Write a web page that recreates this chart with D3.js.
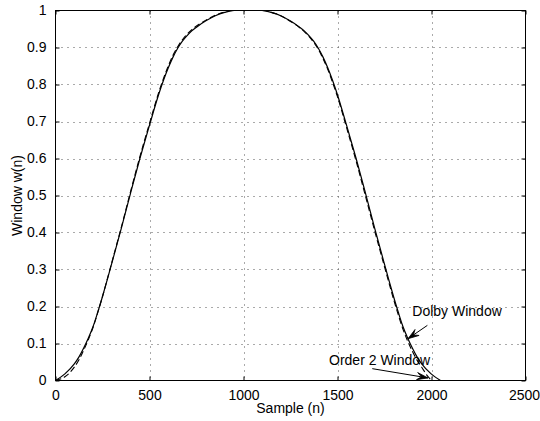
<!DOCTYPE html>
<html>
<head>
<meta charset="utf-8">
<script src="https://cdn.jsdelivr.net/npm/d3@7"></script>
<style>
  html, body { margin: 0; padding: 0; background: #fff; }
  svg { display: block; }
  text { font-family: "Liberation Sans", Arial, Helvetica, sans-serif; font-size: 14px; fill: #000; }
</style>
</head>
<body>
<svg id="chart" width="540" height="421"></svg>
<script>
// ---- data ----
const dolbySamples = [0, 50, 100, 125, 150, 175, 200, 225, 250, 275, 300, 350, 400, 450, 500, 550, 575, 600, 625, 650, 675, 700, 725, 750, 800, 850, 900, 950, 1000,
  1048, 1098, 1148, 1198, 1248, 1298, 1323, 1348, 1373, 1398, 1423, 1448, 1473, 1498, 1548, 1598, 1648, 1698, 1748, 1773, 1798, 1823, 1848, 1873, 1898, 1923, 1948, 1998, 2048];
const dolbyWindow = [0, 0.018, 0.045, 0.064, 0.088, 0.115, 0.146, 0.185, 0.227, 0.272, 0.318, 0.411, 0.508, 0.602, 0.69, 0.775, 0.812, 0.845, 0.874, 0.898, 0.917, 0.932, 0.945, 0.955, 0.972, 0.986, 0.995, 1.0, 1.0,
  1.0, 1.0, 0.995, 0.986, 0.972, 0.955, 0.945, 0.932, 0.917, 0.898, 0.874, 0.845, 0.812, 0.775, 0.69, 0.602, 0.508, 0.411, 0.318, 0.272, 0.227, 0.185, 0.146, 0.115, 0.088, 0.064, 0.045, 0.018, 0];

const order2Samples = [0, 50, 100, 125, 150, 175, 200, 225, 250, 275, 300, 350, 400, 450, 500, 550, 575, 600, 625, 650, 675, 700, 725, 750, 800, 850, 900, 950, 1000,
  1048, 1098, 1148, 1198, 1248, 1298, 1323, 1348, 1373, 1398, 1423, 1448, 1473, 1498, 1548, 1598, 1648, 1698, 1748, 1773, 1798, 1823, 1848, 1873, 1898, 1923, 1948, 1973, 2000];
const order2Window = [0, 0.01, 0.036, 0.056, 0.082, 0.111, 0.144, 0.184, 0.227, 0.273, 0.32, 0.414, 0.512, 0.607, 0.695, 0.78, 0.817, 0.85, 0.879, 0.902, 0.921, 0.936, 0.948, 0.958, 0.974, 0.987, 0.996, 1.0, 1.0,
  1.0, 1.0, 0.995, 0.986, 0.971, 0.954, 0.943, 0.93, 0.914, 0.895, 0.87, 0.841, 0.807, 0.77, 0.684, 0.595, 0.5, 0.404, 0.311, 0.265, 0.22, 0.178, 0.139, 0.107, 0.079, 0.055, 0.036, 0.016, 0];

const xTicks = [0, 500, 1000, 1500, 2000, 2500];
const yTicks = [0, 0.1, 0.2, 0.3, 0.4, 0.5, 0.6, 0.7, 0.8, 0.9, 1];
const yTickLabels = ["0", "0.1", "0.2", "0.3", "0.4", "0.5", "0.6", "0.7", "0.8", "0.9", "1"];

const xLabel = "Sample (n)";
const yLabel = "Window w(n)";
// annotations (data units)
const annotationTexts = ["Dolby Window", "Order 2 Window"];
const annotationTextPos = [[1898, 0.173], [1455, 0.041]];
const annotationArrowTail = [[1978, 0.149], [1685, 0.032]];
const annotationArrowHead = [[1875, 0.113], [1981, 0.007]];

// ---- layout ----
const svg = d3.select("#chart");
const x = d3.scaleLinear().domain([0, 2500]).range([55.5, 525.5]);
const y = d3.scaleLinear().domain([0, 1]).range([380.5, 10.5]);
const [x0, x1] = x.range();
const [yb, yt] = y.range();

// grid
const grid = svg.append("g").attr("stroke", "#555").attr("stroke-width", 1).attr("stroke-dasharray", "1,5");
grid.selectAll("line.gx").data(xTicks.filter(d => d > 0 && d < 2500)).join("line")
  .attr("x1", d => Math.round(x(d)) + 0.5).attr("x2", d => Math.round(x(d)) + 0.5)
  .attr("y1", yt).attr("y2", yb);
grid.selectAll("line.gy").data(yTicks.filter(d => d > 0 && d < 1)).join("line")
  .attr("y1", d => Math.round(y(d)) + 0.5).attr("y2", d => Math.round(y(d)) + 0.5)
  .attr("x1", x0).attr("x2", x1);

// axes with inward ticks
const xAxisB = d3.axisBottom(x).tickValues(xTicks).tickSizeInner(-4).tickSizeOuter(0).tickPadding(10).tickFormat(d3.format("d"));
const xAxisT = d3.axisTop(x).tickValues(xTicks).tickSizeInner(-4).tickSizeOuter(0).tickFormat("");
const yAxisL = d3.axisLeft(y).tickValues(yTicks).tickSizeInner(-4).tickSizeOuter(0).tickPadding(9)
  .tickFormat((d, i) => yTickLabels[i]);
const yAxisR = d3.axisRight(y).tickValues(yTicks).tickSizeInner(-4).tickSizeOuter(0).tickFormat("");

function styleAxis(g) {
  g.select(".domain").remove();
  g.selectAll(".tick line").attr("stroke", "#000");
  g.selectAll(".tick text").style("font-family", "\"Liberation Sans\", Arial, sans-serif").style("font-size", "14px").attr("fill", "#000");
}
const gxb = svg.append("g").attr("transform", `translate(0,${yb})`).call(xAxisB).call(styleAxis);
// keep the last label inside the window
gxb.selectAll(".tick text").filter(d => d === 2500).attr("dx", "-1.5");
svg.append("g").attr("transform", `translate(0,${yt})`).call(xAxisT).call(styleAxis);
svg.append("g").attr("transform", `translate(${x0},0)`).call(yAxisL).call(styleAxis);
svg.append("g").attr("transform", `translate(${x1},0)`).call(yAxisR).call(styleAxis);

// curves
const line = d3.line().curve(d3.curveMonotoneX);
const dolbyPts = dolbySamples.map((s, i) => [x(s), y(dolbyWindow[i])]);
const order2Pts = order2Samples.map((s, i) => [x(s), y(order2Window[i])]);
svg.append("path").attr("d", line(order2Pts)).attr("fill", "none").attr("stroke", "#000")
  .attr("stroke-width", 1.1).attr("stroke-dasharray", "6,3");
svg.append("path").attr("d", line(dolbyPts)).attr("fill", "none").attr("stroke", "#000")
  .attr("stroke-width", 1.2);

// frame
svg.append("rect").attr("x", x0).attr("y", yt).attr("width", x1 - x0).attr("height", yb - yt)
  .attr("fill", "none").attr("stroke", "#000").attr("stroke-width", 1);

// axis labels
svg.append("text").attr("x", (x0 + x1) / 2).attr("y", 413).attr("text-anchor", "middle").text(xLabel);
svg.append("text").attr("transform", `translate(22,${(yt + yb) / 2}) rotate(-90)`).attr("text-anchor", "middle").text(yLabel);

// annotations
annotationTexts.forEach((t, i) => {
  svg.append("text").attr("x", x(annotationTextPos[i][0])).attr("y", y(annotationTextPos[i][1])).text(t);
  const tx = x(annotationArrowTail[i][0]), ty = y(annotationArrowTail[i][1]);
  const hx = x(annotationArrowHead[i][0]), hy = y(annotationArrowHead[i][1]);
  svg.append("line").attr("x1", tx).attr("y1", ty).attr("x2", hx).attr("y2", hy)
    .attr("stroke", "#000").attr("stroke-width", 1);
  const ang = Math.atan2(hy - ty, hx - tx);
  const L = 11, W = 3.6;
  const bx = hx - L * Math.cos(ang), by = hy - L * Math.sin(ang);
  const nx = -Math.sin(ang), ny = Math.cos(ang);
  const mx = hx - 0.6 * L * Math.cos(ang), my = hy - 0.6 * L * Math.sin(ang);
  svg.append("path")
    .attr("d", `M${hx},${hy} L${bx + nx * W},${by + ny * W} L${mx},${my} L${bx - nx * W},${by - ny * W} Z`)
    .attr("fill", "#000").attr("stroke", "#000").attr("stroke-width", 0.8).attr("stroke-linejoin", "miter");
});
</script>
</body>
</html>
